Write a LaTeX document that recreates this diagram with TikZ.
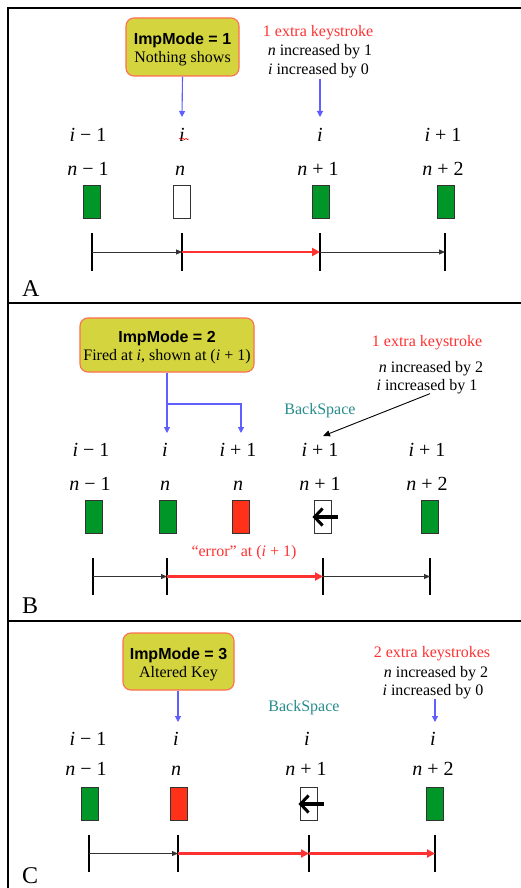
\documentclass[tikz,border=0pt]{standalone}
\usepackage{fontspec}
\setmainfont{Liberation Serif}
\newfontfamily\headfont{Liberation Sans}
\usetikzlibrary{arrows.meta,decorations.pathmorphing}

\definecolor{keygreen}{RGB}{0,150,40}
\definecolor{keyred}{RGB}{255,50,25}
\definecolor{modefill}{RGB}{212,212,62}
\definecolor{modeedge}{RGB}{255,110,80}
\definecolor{pointblue}{RGB}{95,95,255}
\definecolor{notered}{RGB}{255,50,50}
\definecolor{bsteal}{RGB}{40,140,140}

\tikzset{
  frameline/.style={line width=2pt, black},
  modebox/.style={draw=modeedge, line width=1.1pt, fill=modefill, rounded corners=8pt, inner sep=0},
  headtxt/.style={font=\headfont\bfseries\fontsize{16}{19}\selectfont, anchor=base, inner sep=0},
  note/.style={font=\fontsize{16}{19}\selectfont, anchor=base, inner sep=0},
  rednote/.style={note, text=notered},
  bsnote/.style={note, text=bsteal},
  lbl/.style={font=\fontsize{20}{24}\selectfont, anchor=base, inner sep=0},
  panel/.style={font=\fontsize{24}{28}\selectfont, anchor=base west, inner sep=0},
  keybox/.style={draw=black!80, line width=0.9pt, minimum width=17pt, minimum height=33pt, inner sep=0},
  goodkey/.style={keybox, fill=keygreen},
  badkey/.style={keybox, fill=keyred},
  blankkey/.style={keybox, fill=white},
  tickmark/.style={minimum width=0pt, minimum height=37pt, inner sep=0},
  tickline/.style={line width=2.4pt, black},
  stepok/.style={black!80, line width=1pt, -{Triangle[length=6pt,width=5pt]}},
  steperr/.style={notered, line width=2.3pt, -{Triangle[length=8pt,width=8pt]}},
  ptr/.style={pointblue, line width=1.1pt, -{Triangle[length=6pt,width=6pt]}},
  bsarrow/.style={line width=3.2pt, black, -{Straight Barb[length=8pt,width=17pt,line width=3pt]}},
}

\newcommand{\ii}{\textit{i}}
\newcommand{\nn}{\textit{n}}

\begin{document}
\begin{tikzpicture}[x=1pt,y=-1pt]
\useasboundingbox (0,0) rectangle (520,888);
\fill[white] (0,0) rectangle (520,888);

% frame and panel dividers
\draw[frameline] (8,893) -- (8,8) -- (526,8);
\draw[frameline] (8,303) -- (526,303);
\draw[frameline] (8,621) -- (526,621);

% ---------------- panel A ----------------
\node[modebox, minimum width=113pt, minimum height=58pt] (boxA) at (182.5,47) {};
\node[headtxt] (boxAh) at (182.5,45) {ImpMode = 1};
\node[note] (boxAt) at (182.5,63) {Nothing shows};

\node[rednote] (noteA1) at (318,37) {1 extra keystroke};
\node[note] (noteA2) at (320,56) {\nn{} increased by 1};
\node[note] (noteA3) at (318.5,75) {\ii{} increased by 0};

\coordinate (pA2) at (182,117);
\coordinate (pA3) at (320,117);
\draw[ptr] (boxA.south) -- (pA2);
\draw[ptr] (noteA3.south -| pA3) -- (pA3);

\node[lbl] (idxA1) at (88,142) {\ii{} − 1};
\node[lbl] (idxA2) at (182,142) {\ii};
\node[lbl] (idxA3) at (320,142) {\ii};
\node[lbl] (idxA4) at (443,142) {\ii{} + 1};
\draw[red, line width=0.5pt, decorate, decoration={snake, amplitude=0.8pt, segment length=3pt}]
  ([yshift=3pt]idxA2.base west) -- ([xshift=4pt,yshift=3pt]idxA2.base east);

\node[lbl] (cntA1) at (88,175) {\nn{} − 1};
\node[lbl] (cntA2) at (180,175) {\nn};
\node[lbl] (cntA3) at (318,175) {\nn{} + 1};
\node[lbl] (cntA4) at (443,175) {\nn{} + 2};

\node[goodkey] (kA1) at (91.5,201.5) {};
\node[blankkey] (kA2) at (182,201.5) {};
\node[goodkey] (kA3) at (320.5,201.5) {};
\node[goodkey] (kA4) at (445.5,201.5) {};

\node[tickmark] (tkA1) at (92,252) {};
\node[tickmark] (tkA2) at (182,252) {};
\node[tickmark] (tkA3) at (320,252) {};
\node[tickmark] (tkA4) at (445,252) {};
\foreach \t in {tkA1,tkA2,tkA3,tkA4} \draw[tickline] (\t.north) -- (\t.south);
\draw[stepok] (tkA1.center) -- (tkA2.center);
\draw[steperr] (tkA2.center) -- (tkA3.center);
\draw[stepok] (tkA3.center) -- (tkA4.center);

\node[panel] (panA) at (22,296) {A};

% ---------------- panel B ----------------
\node[modebox, minimum width=174pt, minimum height=54pt] (boxB) at (167,345) {};
\node[headtxt] (boxBh) at (167,342) {ImpMode = 2};
\node[note] (boxBt) at (167,360) {Fired at \ii, shown at (\ii{} + 1)};

\node[rednote] (noteB1) at (427,346.7) {1 extra keystroke};
\node[note] (noteB2) at (431,372.7) {\nn{} increased by 2};
\node[note] (noteB3) at (427,390) {\ii{} increased by 1};
\node[bsnote] (bsB) at (320,414) {BackSpace};

\coordinate (jB) at (167,404);
\coordinate (pB2) at (167,433);
\coordinate (pB3) at (241,433);
\coordinate (pB4) at (323,436);
\draw[ptr] (boxB.south) -- (pB2);
\draw[ptr] (jB) -| (pB3);
\draw[black, line width=0.9pt, -{Triangle[length=7pt,width=6pt]}] ([xshift=3pt]noteB3.south) -- (pB4);

\node[lbl] (idxB1) at (91,456.7) {\ii{} − 1};
\node[lbl] (idxB2) at (165,456.7) {\ii};
\node[lbl] (idxB3) at (238,456.7) {\ii{} + 1};
\node[lbl] (idxB4) at (320,456.7) {\ii{} + 1};
\node[lbl] (idxB5) at (427,456.7) {\ii{} + 1};

\node[lbl] (cntB1) at (90,490) {\nn{} − 1};
\node[lbl] (cntB2) at (165,490) {\nn};
\node[lbl] (cntB3) at (238,490) {\nn};
\node[lbl] (cntB4) at (320,490) {\nn{} + 1};
\node[lbl] (cntB5) at (427,490) {\nn{} + 2};

\node[goodkey] (kB1) at (93.5,517) {};
\node[goodkey] (kB2) at (167.5,517) {};
\node[badkey] (kB3) at (240.5,517) {};
\node[blankkey] (kB4) at (322.5,517) {};
\node[goodkey] (kB5) at (430,517) {};
\draw[bsarrow] ([xshift=15pt]kB4.center) -- ([xshift=-10pt]kB4.center);

\node[rednote] (errB) at (244,556.7) {“error” at (\ii{} + 1)};

\node[tickmark] (tkB1) at (93,576.5) {};
\node[tickmark] (tkB2) at (167,576.5) {};
\node[tickmark] (tkB3) at (323,576.5) {};
\node[tickmark] (tkB4) at (430,576.5) {};
\foreach \t in {tkB1,tkB2,tkB3,tkB4} \draw[tickline] (\t.north) -- (\t.south);
\draw[stepok] (tkB1.center) -- (tkB2.center);
\draw[steperr] (tkB2.center) -- (tkB3.center);
\draw[stepok] (tkB3.center) -- (tkB4.center);

\node[panel] (panB) at (22,613) {B};

% ---------------- panel C ----------------
\node[modebox, minimum width=111pt, minimum height=57pt] (boxC) at (178.5,661.5) {};
\node[headtxt] (boxCh) at (178.5,659) {ImpMode = 3};
\node[note] (boxCt) at (178.5,677.7) {Altered Key};

\node[rednote] (noteC1) at (432,657.7) {2 extra keystrokes};
\node[note] (noteC2) at (436,677.7) {\nn{} increased by 2};
\node[note] (noteC3) at (433,695) {\ii{} increased by 0};
\node[bsnote] (bsC) at (304,711) {BackSpace};

\coordinate (pC2) at (178,722);
\coordinate (pC4) at (435,722);
\draw[ptr] (boxC.south -| pC2) -- (pC2);
\draw[ptr] (noteC3.south -| pC4) -- (pC4);

\node[lbl] (idxC1) at (88,745) {\ii{} − 1};
\node[lbl] (idxC2) at (176,745) {\ii};
\node[lbl] (idxC3) at (307,745) {\ii};
\node[lbl] (idxC4) at (433,745) {\ii};

\node[lbl] (cntC1) at (86,775.7) {\nn{} − 1};
\node[lbl] (cntC2) at (176,775.7) {\nn};
\node[lbl] (cntC3) at (306,775.7) {\nn{} + 1};
\node[lbl] (cntC4) at (433,775.7) {\nn{} + 2};

\node[goodkey] (kC1) at (89.5,804) {};
\node[badkey] (kC2) at (178.5,804) {};
\node[blankkey] (kC3) at (308.5,804) {};
\node[goodkey] (kC4) at (435,804) {};
\draw[bsarrow] ([xshift=15pt]kC3.center) -- ([xshift=-10pt]kC3.center);

\node[tickmark] (tkC1) at (89,853.5) {};
\node[tickmark] (tkC2) at (178,853.5) {};
\node[tickmark] (tkC3) at (309,853.5) {};
\node[tickmark] (tkC4) at (435,853.5) {};
\foreach \t in {tkC1,tkC2,tkC3,tkC4} \draw[tickline] (\t.north) -- (\t.south);
\draw[stepok] (tkC1.center) -- (tkC2.center);
\draw[steperr] (tkC2.center) -- (tkC3.center);
\draw[steperr] (tkC3.center) -- (tkC4.center);

\node[panel] (panC) at (22,883) {C};
\end{tikzpicture}
\end{document}
